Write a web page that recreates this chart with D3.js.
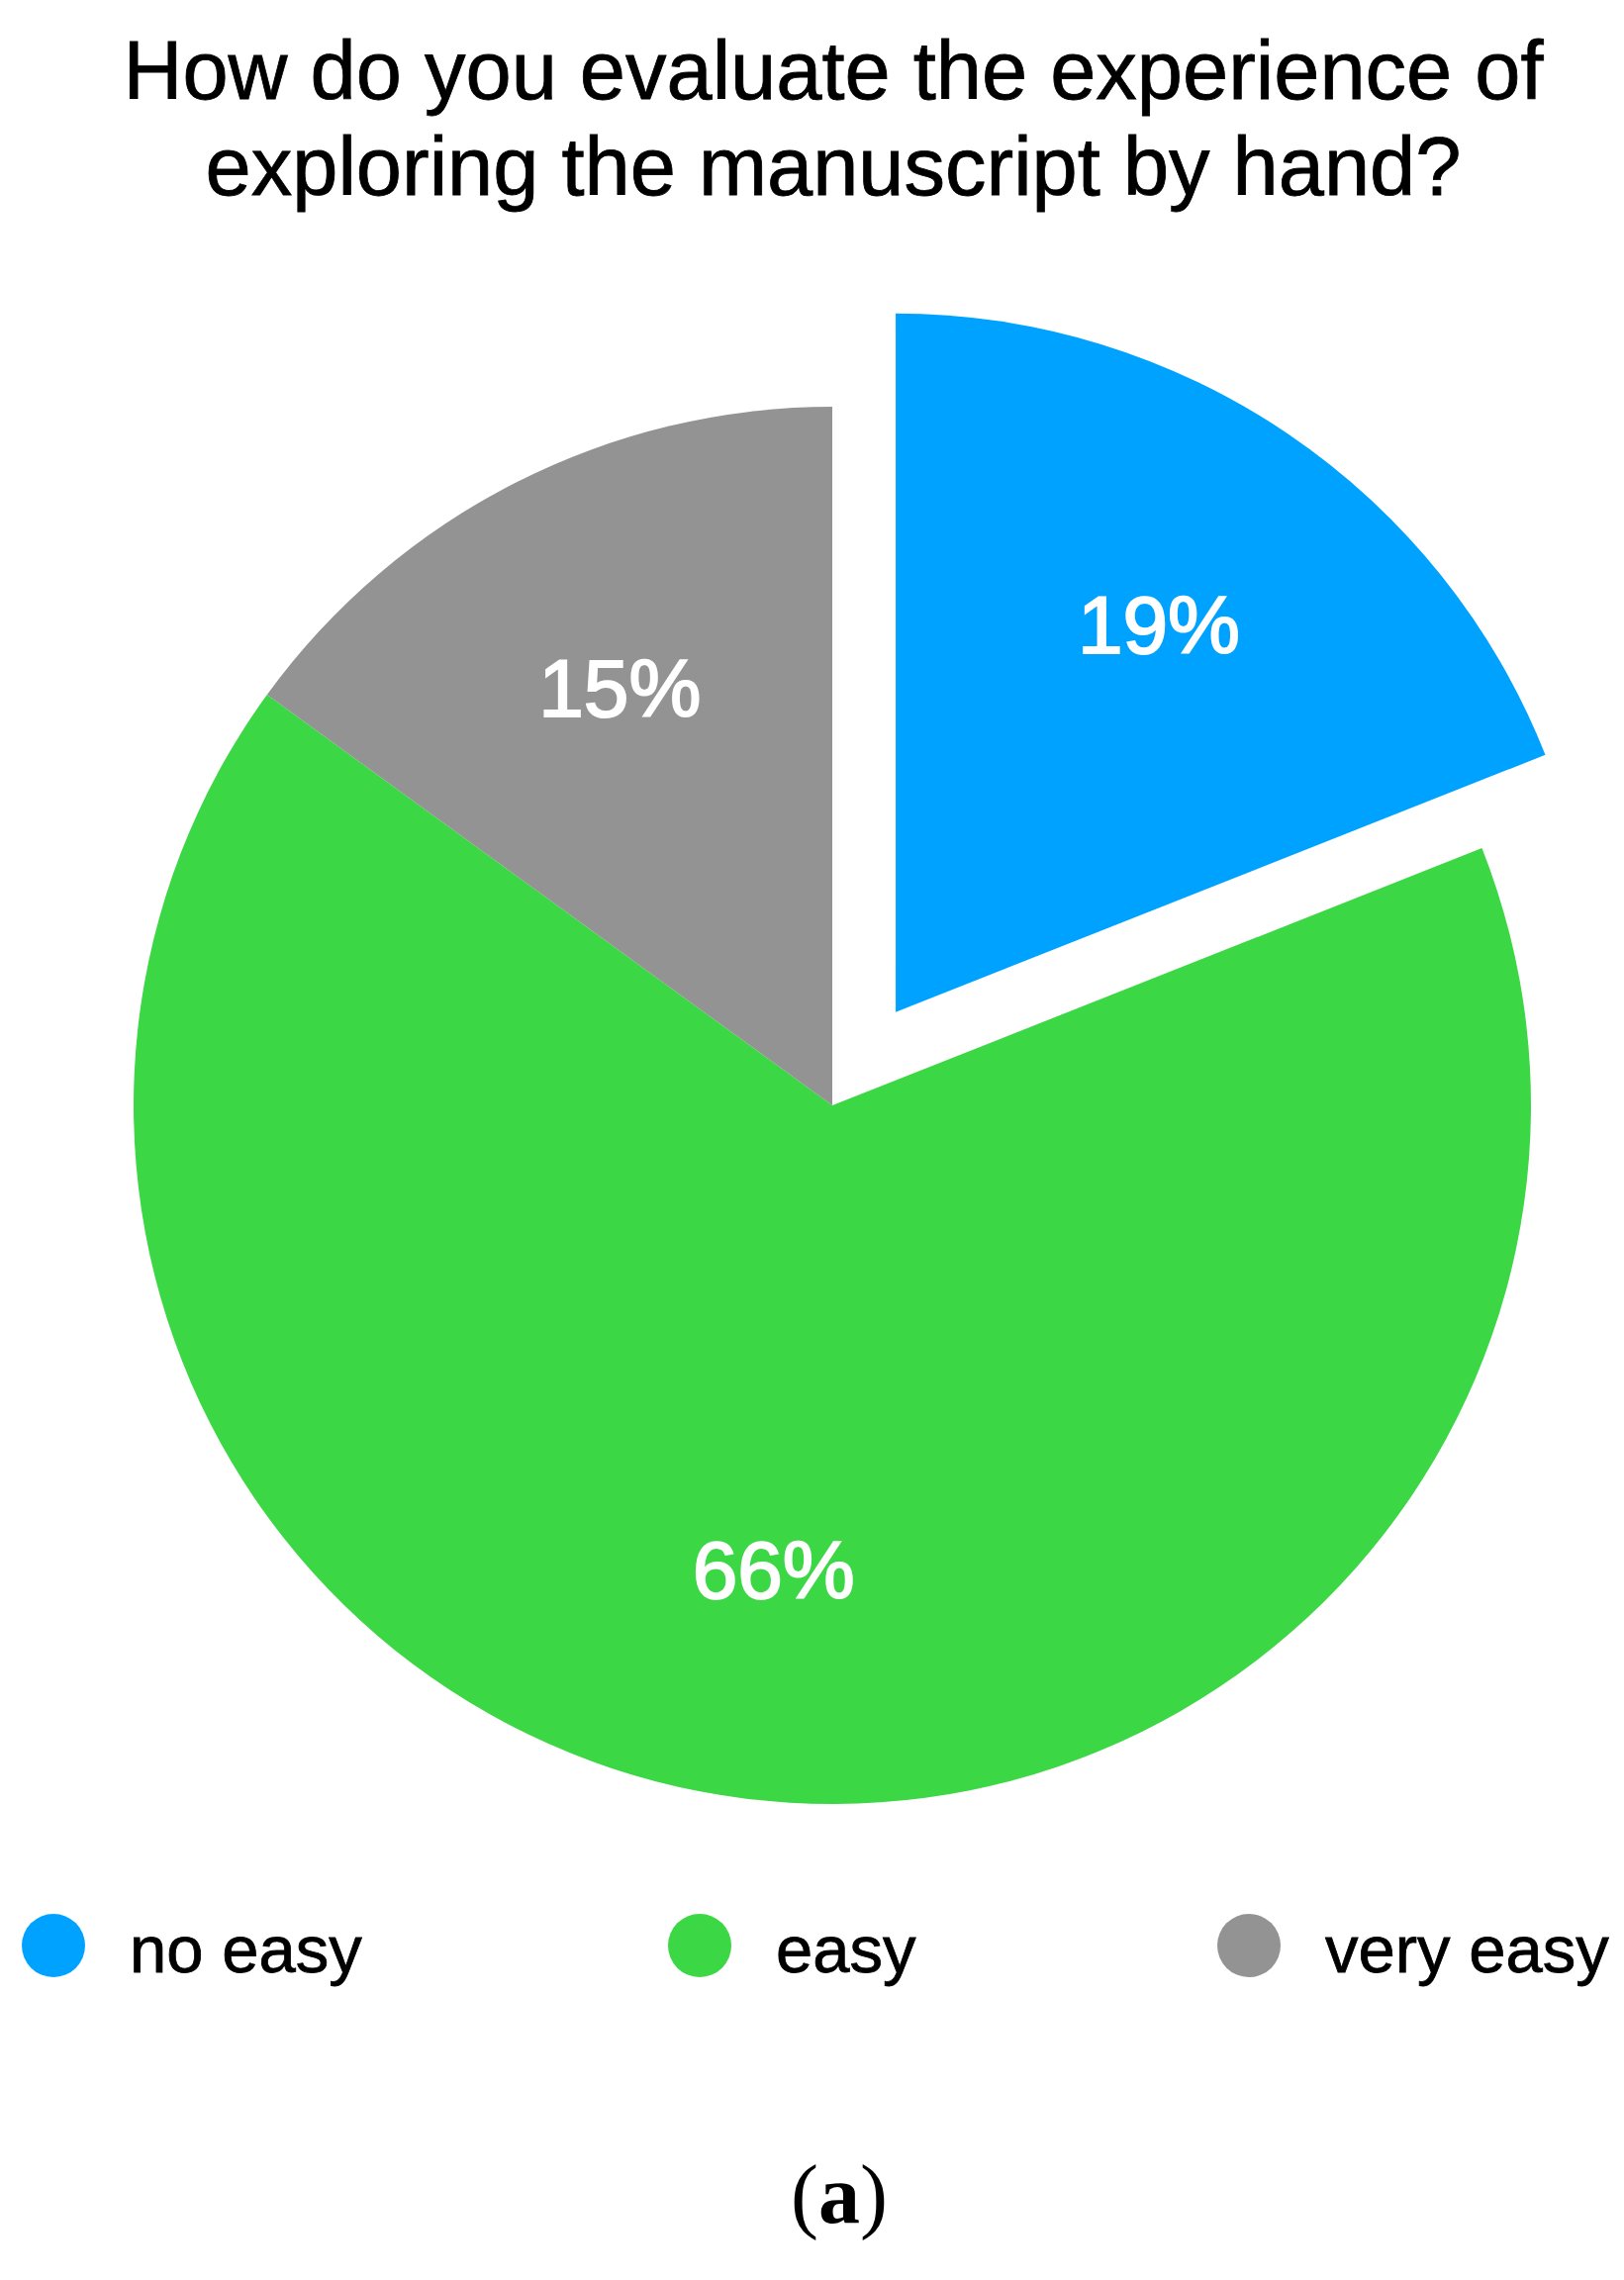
<!DOCTYPE html>
<html>
<head>
<meta charset="utf-8">
<script src="https://cdn.jsdelivr.net/npm/d3@7"></script>
<style>
  body { margin: 0; background: #fff; }
  svg { display: block; }
</style>
</head>
<body>
<div id="chart"></div>
<script>
var categories = ["no easy", "easy", "very easy"];
var values = [19, 66, 15];
var colors = ["#00a2ff", "#3bd744", "#939393"];
var titleLines = ["How do you evaluate the experience of", "exploring the manuscript by hand?"];

var width = 1641,
    height = 2304;

var cx = 841, cy = 1117,
    radius = 706,
    explode = 114;

var svg = d3.select("#chart").append("svg")
    .attr("width", width)
    .attr("height", height);

// title
svg.append("g").selectAll("text")
    .data(titleLines)
    .enter().append("text")
    .attr("x", 842)
    .attr("y", function(d, i) { return 100 + i * 97; })
    .attr("text-anchor", "middle")
    .style("font-family", "'Liberation Sans', Arial, sans-serif")
    .style("font-size", "83px")
    .style("fill", "#000")
    .style("stroke", "#000")
    .style("stroke-width", "0.8px")
    .text(function(d) { return d; });

var pie = d3.pie()
    .sort(null)
    .value(function(d) { return d.value; });

var data = categories.map(function(c, i) {
  return {name: c, value: values[i], color: colors[i]};
});

var arcs = pie(data);

var arc = d3.arc()
    .innerRadius(0)
    .outerRadius(radius);

var labelArc = d3.arc()
    .innerRadius(473)
    .outerRadius(473);

function offset(d, i) {
  if (i !== 0) return [0, 0];
  var a = (d.startAngle + d.endAngle) / 2;
  return [Math.sin(a) * explode, -Math.cos(a) * explode];
}

var g = svg.append("g")
    .attr("transform", "translate(" + cx + "," + cy + ")");

var slice = g.selectAll(".slice")
    .data(arcs)
    .enter().append("g")
    .attr("class", "slice")
    .attr("transform", function(d, i) {
      var o = offset(d, i);
      return "translate(" + o[0] + "," + o[1] + ")";
    });

slice.append("path")
    .attr("d", arc)
    .style("fill", function(d) { return d.data.color; });

slice.append("text")
    .attr("transform", function(d) { return "translate(" + labelArc.centroid(d) + ")"; })
    .attr("dy", "0.35em")
    .attr("text-anchor", "middle")
    .style("font-family", "'Liberation Sans', Arial, sans-serif")
    .style("font-size", "82px")
    .style("fill", "#fff")
    .style("stroke", "#fff")
    .style("stroke-width", "2px")
    .text(function(d) { return d.data.value + "%"; });

// legend
var legendX = [54, 707, 1262];

var legend = svg.append("g").selectAll("g")
    .data(data)
    .enter().append("g")
    .attr("transform", function(d, i) { return "translate(" + legendX[i] + ",1966)"; });

legend.append("circle")
    .attr("r", 32)
    .style("fill", function(d) { return d.color; });

legend.append("text")
    .attr("x", 77)
    .attr("y", 27)
    .style("font-family", "'Liberation Sans', Arial, sans-serif")
    .style("font-size", "67px")
    .style("fill", "#000")
    .style("stroke", "#000")
    .style("stroke-width", "0.8px")
    .text(function(d) { return d.name; });

// panel letter
var cap = svg.append("text")
    .attr("x", 848)
    .attr("y", 2246)
    .attr("text-anchor", "middle")
    .style("font-family", "'Liberation Serif', 'Times New Roman', serif")
    .style("font-size", "84px")
    .style("fill", "#000");
cap.append("tspan").text("(");
cap.append("tspan").style("font-weight", "bold").text("a");
cap.append("tspan").text(")");
</script>
</body>
</html>
